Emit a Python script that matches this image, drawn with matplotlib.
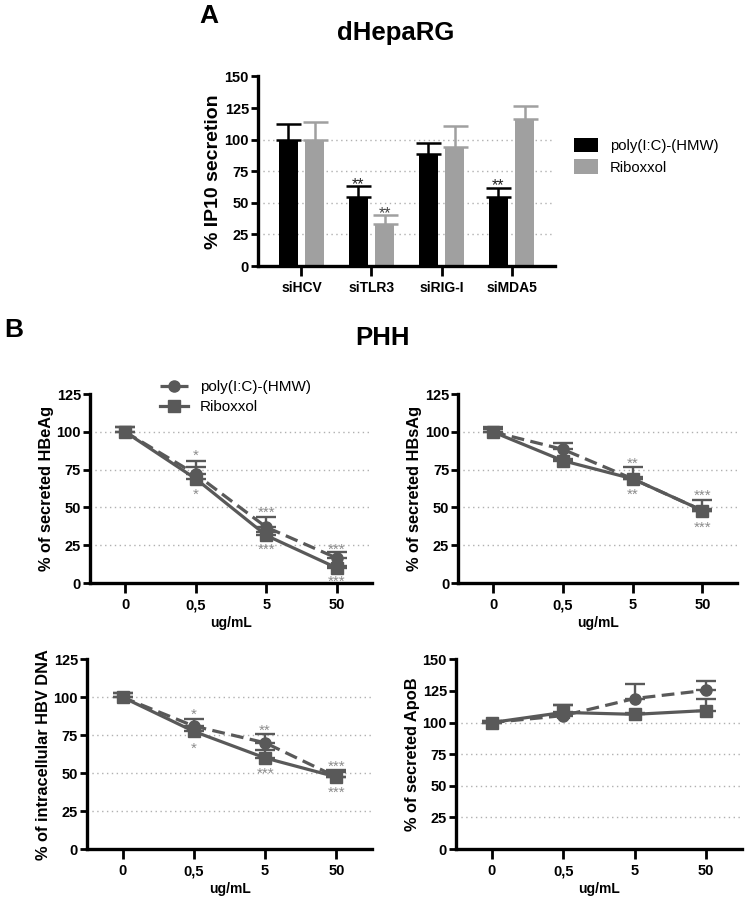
import matplotlib.pyplot as plt
import numpy as np

plt.rcParams['font.family'] = ['Liberation Sans', 'DejaVu Sans']

# ---- panel A data (dHepaRG)
sirnas = ['siHCV', 'siTLR3', 'siRIG-I', 'siMDA5']
poly_ip10 = [100, 55, 89, 55]
poly_ip10_err = [12, 8, 8.5, 7]
ribo_ip10 = [100, 33, 94, 116]
ribo_ip10_err = [14, 7.5, 17, 11]
a_stars_poly = ['', '**', '', '**']
a_stars_ribo = ['', '**', '', '']

# ---- panel B data (PHH)
doses = ['0', '0,5', '5', '50']
series_names = ['poly(I:C)-(HMW)', 'Riboxxol']

hbeag_poly = [100, 72, 37, 16.5]
hbeag_poly_err = [3, 9, 7, 4]
hbeag_ribo = [100, 69, 31.5, 10]
hbeag_ribo_err = [3, 8, 2, 1]
hbeag_up = ['', '*', '***', '***']
hbeag_up_y = [0, 87.5, 49.5, 25.5]
hbeag_dn = ['', '*', '***', '***']
hbeag_dn_y = [0, 61.5, 25, 4]

hbsag_poly = [100, 88.5, 69, 48]
hbsag_poly_err = [2, 4, 8, 7]
hbsag_ribo = [100, 81, 69, 48]
hbsag_ribo_err = [3, 1, 1, 1]
hbsag_up = ['', '', '**', '***']
hbsag_up_y = [0, 0, 82, 61]
hbsag_dn = ['', '', '**', '***']
hbsag_dn_y = [0, 0, 61.5, 40]

dna_poly = [100, 81, 70, 47.5]
dna_poly_err = [3, 5, 6, 4.5]
dna_ribo = [100, 77.5, 60, 47.5]
dna_ribo_err = [3, 3, 5, 3]
dna_up = ['', '*', '**', '***']
dna_up_y = [0, 91.5, 81, 57.5]
dna_dn = ['', '*', '***', '***']
dna_dn_y = [0, 69, 52.5, 40.5]

apob_poly = [100, 105.5, 119, 125.5]
apob_poly_err = [1, 8, 11.5, 7]
apob_ribo = [100, 108, 106.5, 109.5]
apob_ribo_err = [1, 6, 1, 9.5]

grid_vals = [25, 50, 75, 100]

line_col = '#595959'
star_col = '#8c8c8c'


def style_axes(ax, ymax, ystep):
    for s in ['top', 'right']:
        ax.spines[s].set_visible(False)
    for s in ['left', 'bottom']:
        ax.spines[s].set_linewidth(2.4)
    ax.set_ylim(0, ymax)
    ax.set_yticks(np.arange(0, ymax + 1, ystep))
    ax.tick_params(axis='both', width=2, length=5, labelsize=10.5, pad=1.5)
    ax.tick_params(axis='x', length=7, pad=4)
    for lab in ax.get_xticklabels() + ax.get_yticklabels():
        lab.set_fontweight('bold')
    for g in grid_vals:
        ax.axhline(g, color='#b0b0b0', lw=1, ls=(0, (1, 2.5)), zorder=0)


def star(ax, xv, yv, s, col, fs):
    # asterisks sit high in the em box, shift baseline so glyph centres on yv
    ax.annotate(s, (xv, yv), xytext=(0, -0.58 * fs), textcoords='offset points',
                ha='center', va='baseline', fontsize=fs, color=col)


fig = plt.figure(figsize=(7.5, 8.99), dpi=100)

# ---------------- A ----------------
axA = fig.add_axes([0.344, 0.704, 0.396, 0.211])
x = np.arange(len(sirnas))
w = 0.27
b1 = axA.bar(x - 0.19, poly_ip10, w, color='black', zorder=2,
             yerr=[np.zeros(4), poly_ip10_err], capsize=9,
             error_kw=dict(ecolor='black', elinewidth=1.8, capthick=1.8))
b2 = axA.bar(x + 0.19, ribo_ip10, w, color='#a0a0a0', zorder=2,
             yerr=[np.zeros(4), ribo_ip10_err], capsize=9,
             error_kw=dict(ecolor='#a0a0a0', elinewidth=1.8, capthick=1.8))
for i in range(len(sirnas)):
    if a_stars_poly[i]:
        star(axA, x[i] - 0.19, poly_ip10[i] + poly_ip10_err[i] + 5, a_stars_poly[i], '#222222', 11.5)
    if a_stars_ribo[i]:
        star(axA, x[i] + 0.19, ribo_ip10[i] + ribo_ip10_err[i] + 5, a_stars_ribo[i], '#444444', 11.5)
axA.set_xlim(-0.62, 3.62)
axA.set_xticks(x)
axA.set_xticklabels(sirnas)
style_axes(axA, 150, 25)
for lab in axA.get_xticklabels():
    lab.set_fontsize(10)
axA.set_ylabel('% IP10 secretion', fontsize=14, fontweight='bold', labelpad=2)
axA.legend([b1.patches[0], b2.patches[0]], ['poly(I:C)-(HMW)', 'Riboxxol'], loc='center left',
           bbox_to_anchor=(1.02, 0.58), frameon=False, fontsize=10.7,
           handlelength=1.6, handleheight=1.1, handletextpad=0.8, labelspacing=0.45)
fig.text(0.266, 0.982, 'A', fontsize=19, fontweight='bold', va='center')
fig.text(0.527, 0.963, 'dHepaRG', fontsize=18.5, fontweight='bold', ha='center', va='center')

# ---------------- B ----------------
fig.text(0.006, 0.633, 'B', fontsize=19, fontweight='bold', va='center')
fig.text(0.51, 0.624, 'PHH', fontsize=18.5, fontweight='bold', ha='center', va='center')

panels = [
    ([0.120, 0.3515, 0.376, 0.210], '% of secreted HBeAg', 125,
     hbeag_poly, hbeag_poly_err, hbeag_ribo, hbeag_ribo_err,
     hbeag_up, hbeag_up_y, hbeag_dn, hbeag_dn_y),
    ([0.611, 0.3515, 0.372, 0.210], '% of secreted HBsAg', 125,
     hbsag_poly, hbsag_poly_err, hbsag_ribo, hbsag_ribo_err,
     hbsag_up, hbsag_up_y, hbsag_dn, hbsag_dn_y),
    ([0.116, 0.0556, 0.380, 0.211], '% of intracellular HBV DNA', 125,
     dna_poly, dna_poly_err, dna_ribo, dna_ribo_err,
     dna_up, dna_up_y, dna_dn, dna_dn_y),
    ([0.608, 0.0556, 0.381, 0.211], '% of secreted ApoB', 150,
     apob_poly, apob_poly_err, apob_ribo, apob_ribo_err,
     None, None, None, None),
]

xs = np.arange(len(doses))
for k, (pos, ylab, ymax, pv, pe, rv, re_, up, upy, dn, dny) in enumerate(panels):
    ax = fig.add_axes(pos)
    ax.errorbar(xs, pv, yerr=[np.zeros(4), pe], color=line_col, lw=2.3, ls=(0, (4, 2)),
                marker='o', ms=8, capsize=7, elinewidth=1.7, capthick=1.7, zorder=3,
                label=series_names[0])
    ax.errorbar(xs, rv, yerr=[np.zeros(4), re_], color=line_col, lw=2.3, ls='-',
                marker='s', ms=8, capsize=7, elinewidth=1.7, capthick=1.7, zorder=3,
                label=series_names[1])
    if up is not None:
        for i in range(len(doses)):
            if up[i]:
                star(ax, xs[i], upy[i], up[i], star_col, 11)
            if dn[i]:
                star(ax, xs[i], dny[i], dn[i], star_col, 11)
    ax.set_xlim(-0.5, 3.5)
    ax.set_xticks(xs)
    ax.set_xticklabels(doses)
    style_axes(ax, ymax, 25)
    ax.set_ylabel(ylab, fontsize=11.8, fontweight='bold', labelpad=2)
    ax.set_xlabel('ug/mL', fontsize=10, fontweight='bold', labelpad=3)
    if k == 0:
        h, l = ax.get_legend_handles_labels()
        h = [hh[0] for hh in h]
        ax.legend(h, l, loc='center left', bbox_to_anchor=(0.2, 0.985), frameon=False,
                  fontsize=11, handlelength=1.8, handletextpad=0.8, labelspacing=0.4)

fig.savefig('out.png', dpi=100)
